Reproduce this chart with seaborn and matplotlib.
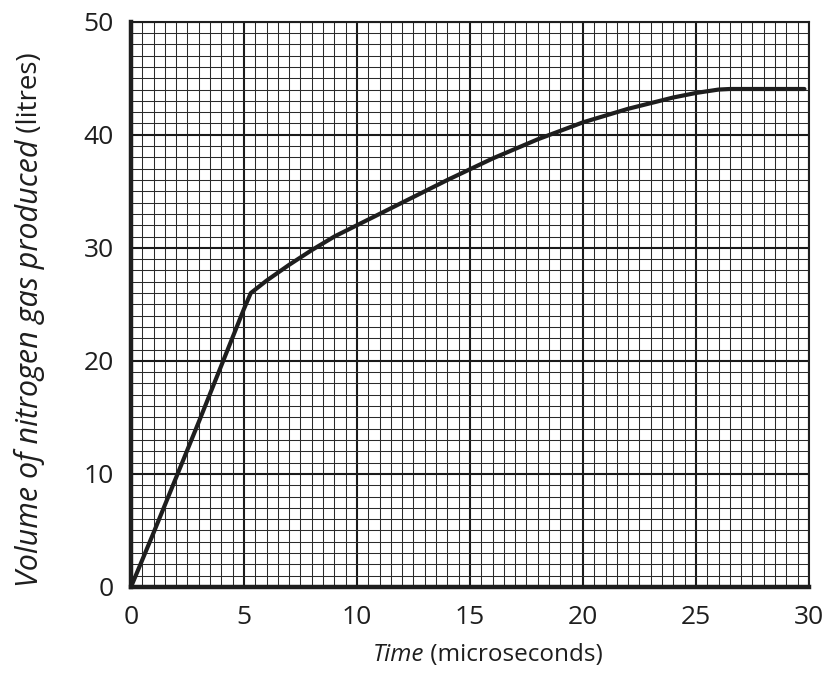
import matplotlib
matplotlib.use("Agg")
import matplotlib.pyplot as plt
from matplotlib.ticker import MultipleLocator
import seaborn as sns
import pandas as pd

time_us = [0, 1, 2, 3, 4, 5, 5.3, 6, 7, 8, 9, 10, 12, 14, 16, 18, 20, 22, 24, 25, 26, 26.5, 28, 29.8]
volume_l = [0, 4.8, 9.7, 14.6, 19.6, 24.6, 26.0, 27.1, 28.5, 29.8, 31.0, 32.0, 34.0, 36.0, 37.9, 39.6, 41.1, 42.3, 43.3, 43.7, 44.0, 44.05, 44.05, 44.05]
x_ticks = [0, 5, 10, 15, 20, 25, 30]
y_ticks = [0, 10, 20, 30, 40, 50]

df = pd.DataFrame({"time": time_us, "volume": volume_l})

sns.set_style("white")
plt.rcParams["font.family"] = ["Open Sans", "DejaVu Sans"]

fig = plt.figure(figsize=(8.28, 6.79), dpi=100)
ax = fig.add_axes([0.1582, 0.1355, 0.977 - 0.1582, 0.968 - 0.1355])

ax.set_xlim(0, 30)
ax.set_ylim(0, 50)
ax.set_xticks(x_ticks)
ax.set_yticks(y_ticks)
ax.xaxis.set_minor_locator(MultipleLocator(0.5))
ax.yaxis.set_minor_locator(MultipleLocator(1))

ax.set_axisbelow(True)
ax.grid(which="minor", color="#2a2a2a", linewidth=0.75)
ax.grid(which="major", color="#1a1a1a", linewidth=1.5)

sns.lineplot(data=df, x="time", y="volume", ax=ax, color="#1e1e1e", linewidth=3.0, zorder=5)

for side in ["left", "bottom"]:
    ax.spines[side].set_linewidth(3.2)
    ax.spines[side].set_color("#1e1e1e")
    ax.spines[side].set_zorder(6)
for side in ["top", "right"]:
    ax.spines[side].set_linewidth(1.5)
    ax.spines[side].set_color("#1e1e1e")

ax.tick_params(which="major", direction="out", width=1.5, color="#1e1e1e",
               labelsize=19, labelcolor="#1e1e1e")
ax.tick_params(axis="x", which="major", length=9, pad=4)
ax.tick_params(axis="y", which="major", length=7.5, pad=5)
ax.tick_params(which="minor", length=0)

ax.set_xlabel("")
ax.set_ylabel("")

# axis labels with mixed italic / upright parts
fig.text(0.5125, 0.035, "Time", fontsize=17.5, style="italic", color="#1e1e1e", ha="right", va="center")
fig.text(0.5125, 0.035, " (microseconds)", fontsize=17.5, color="#1e1e1e", ha="left", va="center")
fig.text(0.036, 0.794, "Volume of nitrogen gas produced", fontsize=22, style="italic", color="#1e1e1e",
         rotation=90, ha="center", va="top")
fig.text(0.036, 0.794, " (litres)", fontsize=20, color="#1e1e1e", rotation=90, ha="center", va="bottom")

fig.savefig("out.png", dpi=100)
